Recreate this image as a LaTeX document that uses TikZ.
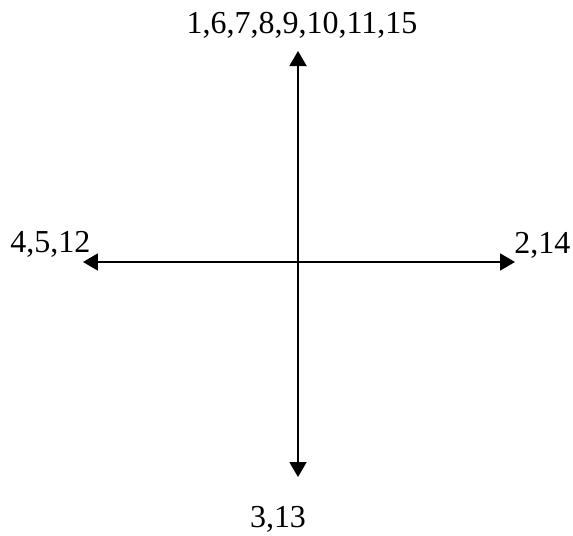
\documentclass[tikz,border=0pt]{standalone}
\usepackage{fontspec}
\setmainfont{Liberation Serif}
\usetikzlibrary{arrows.meta,positioning}
\tikzset{
  lbl/.style={inner sep=0pt, font=\fontsize{18.2}{21}\selectfont},
  axis/.style={{Triangle[length=3mm,width=3.4mm]}-{Triangle[length=3mm,width=3.4mm]}, line width=1.1pt, draw=black}
}
\begin{document}
\begin{tikzpicture}[x=0.02cm, y=-0.02cm]
  \useasboundingbox (0,0) rectangle (573,535);
  \coordinate (top) at (298,51);
  \coordinate (bot) at (298,477);
  \coordinate (lft) at (83,262);
  \coordinate (rgt) at (515,262);
  \draw[axis] (lft) -- (rgt);
  \draw[axis] (top) -- (bot);
  \node[lbl, anchor=base] (ntop) at (302,33) {1,6,7,8,9,10,11,15};
  \node[lbl, anchor=base west] (nlft) at (10,252) {4,5,12};
  \node[lbl, anchor=base west] (nrgt) at (514,253) {2,14};
  \node[lbl, anchor=base] (nbot) at (278,527) {3,13};
\end{tikzpicture}
\end{document}
